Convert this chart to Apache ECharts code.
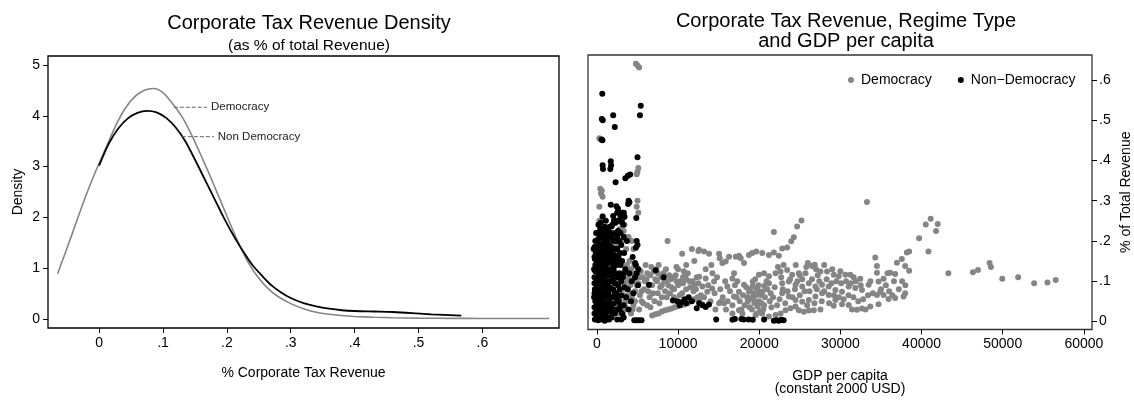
<!DOCTYPE html>
<html>
<head>
<meta charset="utf-8">
<script src="https://cdn.jsdelivr.net/npm/echarts@6/dist/echarts.min.js"></script>
<style>
  html, body { margin: 0; padding: 0; background: #fff; }
  #chart { width: 1134px; height: 401px; }
</style>
</head>
<body>
<div id="chart"></div>
<script>
// ---- Left panel: kernel density of corporate tax share ----
const democracyDensity = [
  [-0.065, 0.89], [-0.05, 1.40], [-0.035, 1.93], [-0.02, 2.45], [-0.005, 2.92],
  [0.01, 3.35], [0.025, 3.78], [0.04, 4.13], [0.055, 4.37], [0.07, 4.50],
  [0.085, 4.54], [0.10, 4.46], [0.115, 4.24], [0.13, 3.98], [0.145, 3.62],
  [0.16, 3.21], [0.175, 2.78], [0.19, 2.33], [0.205, 1.88], [0.22, 1.45],
  [0.235, 1.08], [0.25, 0.80], [0.265, 0.59], [0.28, 0.44], [0.30, 0.30],
  [0.32, 0.20], [0.34, 0.13], [0.36, 0.09], [0.38, 0.065], [0.40, 0.048],
  [0.43, 0.032], [0.46, 0.022], [0.50, 0.014], [0.55, 0.010], [0.60, 0.008],
  [0.65, 0.007], [0.705, 0.006]
];
const nonDemocracyDensity = [
  [0, 3.02], [0.015, 3.45], [0.03, 3.75], [0.045, 3.95], [0.06, 4.06],
  [0.075, 4.10], [0.09, 4.07], [0.105, 3.96], [0.12, 3.77], [0.135, 3.50],
  [0.15, 3.14], [0.165, 2.76], [0.18, 2.38], [0.195, 2.00], [0.21, 1.65],
  [0.225, 1.34], [0.24, 1.06], [0.255, 0.85], [0.27, 0.66], [0.285, 0.52],
  [0.30, 0.41], [0.32, 0.31], [0.34, 0.245], [0.36, 0.20], [0.38, 0.17],
  [0.40, 0.155], [0.43, 0.145], [0.46, 0.135], [0.49, 0.115], [0.52, 0.09],
  [0.567, 0.065]
];
// leader lines for the curve labels
const democracyLeader = [[0.117, 4.17], [0.169, 4.17]];
const nonDemocracyLeader = [[0.1296, 3.59], [0.1796, 3.59]];
const densityTicksX = [0, 0.1, 0.2, 0.3, 0.4, 0.5, 0.6];
const densityTicksY = [0, 1, 2, 3, 4, 5];

// ---- Right panel: tax share vs GDP per capita ----
const democracyPoints = [
  [4800,0.640],[5000,0.636],[5200,0.631],[300,0.455],[450,0.452],
  [5100,0.381],[5000,0.372],[4900,0.366],[400,0.330],[600,0.325],[500,0.318],[700,0.31],
  [300,0.285],[700,0.262],[300,0.25],[200,0.24],[5000,0.30],[4900,0.285],[5100,0.27],
  [3300,0.27],[3200,0.255],[3400,0.24],[3300,0.225],[3500,0.21],[3000,0.20],
  [200,0.2],[300,0.18],[1200,0.2],[1500,0.17],[2000,0.16],[2500,0.19],[2800,0.23],[2600,0.15],
  [3000,0.14],[2300,0.12],[2700,0.1],[3100,0.08],[2900,0.06],[2500,0.04],[3300,0.03],[2800,0.02],
  [3200,0.02],[3500,0.035],[3800,0.05],[3400,0.065],[3700,0.08],[3300,0.095],[3900,0.11],[3600,0.125],
  [4200,0.02],[4500,0.04],[4300,0.06],[4700,0.075],[4100,0.09],[4600,0.105],[4400,0.12],[4900,0.135],
  [5200,0.03],[5500,0.05],[5300,0.065],[5800,0.08],[5100,0.095],[5600,0.11],[5400,0.125],[6000,0.14],
  [6200,0.04],[6500,0.06],[6300,0.075],[6800,0.09],[6100,0.105],[6600,0.115],[7000,0.125],[7300,0.13],
  [7100,0.05],[7500,0.07],[7800,0.085],[7400,0.1],[7900,0.11],[8200,0.12],[8500,0.13],
  [8000,0.06],[8400,0.075],[8800,0.09],[8600,0.1],[9100,0.105],[9400,0.11],[9700,0.115],
  [9000,0.07],[9500,0.08],[10000,0.09],[10300,0.1],[10600,0.11],[10900,0.115],[11200,0.12],
  [10500,0.07],[11000,0.08],[11500,0.085],[12000,0.09],[12500,0.095],[11800,0.1],[12300,0.11],
  [6800,0.015],[7200,0.018],[7600,0.02],[8000,0.025],[8400,0.028],[8800,0.03],[9200,0.032],
  [9600,0.035],[10000,0.038],[10400,0.04],[10800,0.042],[11200,0.045],[11600,0.05],[12000,0.055],
  [12400,0.06],[12800,0.065],
  [8700,0.2],[10500,0.168],[11700,0.18],[12500,0.175],[12000,0.15],[11000,0.14],[10000,0.13],
  [12592,0.178],[13200,0.174],[13820,0.168],[15050,0.168],[15130,0.157],[15460,0.145],[15870,0.149],
  [16280,0.161],[17100,0.161],[17500,0.163],[17710,0.157],[18120,0.145],[18730,0.165],[19140,0.17],
  [19640,0.174],[20370,0.17],[21190,0.165],[21800,0.171],[22420,0.163],[22830,0.181],[23440,0.184],
  [23940,0.199],[24260,0.209],[24670,0.236],[25200,0.251],[21800,0.222],
  [12600,0.111],[13400,0.107],[14230,0.12],[14430,0.099],[13000,0.087],[13600,0.074],[14200,0.082],
  [12592,0.053],[13000,0.043],[15250,0.049],[15650,0.045],[16890,0.062],[16070,0.087],[16690,0.107],
  [17500,0.074],[18120,0.091],[18730,0.074],[19200,0.099],[19700,0.082],[20200,0.066],[19000,0.058],
  [19400,0.045],[20000,0.05],[20600,0.04],[18600,0.05],[19800,0.037],[20400,0.074],[19300,0.07],
  [19960,0.116],[20580,0.12],[21190,0.112],[22010,0.12],[22620,0.124],[23440,0.128],[24060,0.116],
  [24880,0.12],[25700,0.12],[26510,0.138],[26840,0.141],[27540,0.124],[28360,0.124],[29180,0.116],
  [29790,0.112],[30610,0.116],[31220,0.116],[31630,0.110],[32450,0.106],
  [22830,0.095],[23650,0.099],[24470,0.091],[25290,0.087],[26110,0.095],[26920,0.087],[27740,0.091],
  [28560,0.087],[29380,0.078],[30200,0.074],[31020,0.087],[31840,0.083],[32660,0.078],[33480,0.091],
  [22830,0.07],[23650,0.062],[24470,0.053],[25290,0.049],[26110,0.053],[26920,0.062],[27740,0.07],
  [28560,0.066],[29380,0.053],[30200,0.043],[31020,0.041],[29180,0.039],[31430,0.03],[32040,0.029],
  [32660,0.032],[33680,0.037],[34700,0.043],[35930,0.056],[36750,0.058],[37780,0.062],[37980,0.07],
  [34300,0.159],[34500,0.138],[34500,0.121],[34700,0.099],[34910,0.074],[34500,0.066],[35320,0.066],
  [35320,0.106],[36140,0.121],[36750,0.118],[36960,0.146],[37570,0.155],[38190,0.171],[38470,0.174],
  [37980,0.138],[38470,0.126],[39700,0.207],[40850,0.174],[40520,0.241],[41130,0.255],[41990,0.242],
  [41790,0.225],[33270,0.297],[43300,0.12],[46330,0.122],[46950,0.128],[48380,0.145],[48550,0.135],
  [49940,0.106],[51900,0.11],[53870,0.095],[55510,0.097],[56530,0.103],
  [15050,0.045],[16690,0.02],[17500,0.028],[17920,0.02],[19550,0.016],[20370,0.02],[21190,0.012],
  [22010,0.016],[22630,0.02],[23240,0.028],[23850,0.033],[24470,0.037],[24880,0.028],[25490,0.024],
  [26110,0.027],[26720,0.028],[27540,0.03],
  [17800,0.03],[18200,0.04],[18500,0.06],[18900,0.08],[19100,0.03],[19300,0.055],[19600,0.065],
  [19900,0.09],[20100,0.025],[20300,0.045],[20700,0.06],[21000,0.08],[21300,0.05],[20900,0.1],
  [19500,0.105],[18400,0.085],[18000,0.065],[17600,0.05],[19700,0.02],[20500,0.03],[21500,0.035],
  [21700,0.06],[21900,0.085],[21200,0.095],[20000,0.075],[19200,0.088],[18800,0.035],[19900,0.048],
  [20600,0.088],[21400,0.07],
  [22200,0.04],[22500,0.055],[22900,0.08],[23200,0.045],[23500,0.075],[23800,0.105],[24100,0.06],
  [24400,0.08],[24700,0.1],[25000,0.065],[25300,0.105],[25600,0.075],[25900,0.04],[26200,0.075],
  [26500,0.105],[26800,0.045],[27100,0.08],[27400,0.1],[27700,0.05],[28000,0.075],[28300,0.105],
  [28600,0.045],[28900,0.095],[29200,0.065],[29500,0.1],[29800,0.06],[30100,0.095],[30400,0.055],
  [30700,0.1],[31000,0.065],[31300,0.095],[31600,0.06],[31900,0.1],[32200,0.05],[32500,0.09],
  [32800,0.055],[33100,0.03],[33400,0.065],[33700,0.1],[34000,0.07],[35000,0.08],[35600,0.09],
  [36000,0.075],[36400,0.065],[37200,0.08],[37600,0.1],[38000,0.09],[36600,0.1],[35800,0.12],
  [22300,0.135],[23000,0.14],[24500,0.14],[25800,0.135],[27000,0.13],[28000,0.14],[29000,0.13],
  [30000,0.125],[26000,0.145],[22700,0.11],[25000,0.115],[27200,0.115],
  [13200,0.06],[13700,0.09],[14000,0.05],[14500,0.07],[14800,0.11],[15200,0.08],[15500,0.06],
  [15800,0.1],[16100,0.05],[16400,0.075],[16700,0.04],[17000,0.09],[17200,0.06],[14600,0.03],
  [15900,0.03],[13400,0.13],[14100,0.14],[16900,0.12],[17300,0.1],
  [3500,0.05],[3800,0.1],[4100,0.07],[4400,0.03],[4700,0.05],[4900,0.09],[5200,0.11],[5500,0.075],
  [5700,0.045],[5900,0.1],[6200,0.12],[6400,0.09],[6600,0.035],[6900,0.07],[7200,0.105],[7500,0.12],
  [7700,0.045],[8000,0.09],[8300,0.1],[8600,0.06],[8900,0.115],[9200,0.085],[9500,0.06],[9800,0.1],
  [10200,0.065],[10600,0.095],[11000,0.105],[11400,0.1],[11900,0.075],[12200,0.08],[7600,0.14],
  [6700,0.135],[9800,0.135],[10700,0.125],
  [3700,0.14],[4200,0.13],[2900,0.17],[3600,0.18],[3900,0.21],[4300,0.2],[4500,0.18],[4600,0.14],[4000,0.15]
];
const nonDemocracyPoints = [
  [660,0.566],[600,0.503],[720,0.500],[2000,0.512],[2200,0.483],[5400,0.536],[5300,0.512],
  [580,0.452],[680,0.450],[5000,0.408],[700,0.388],[750,0.379],[1700,0.398],[1750,0.388],[1650,0.379],
  [2300,0.346],[3500,0.356],[3800,0.362],[4100,0.365],[3900,0.300],[4000,0.296],[3850,0.292],
  [1700,0.290],[4850,0.257],[4900,0.200],[5000,0.190],[4800,0.183],[4700,0.145],[5100,0.130],
  [5070,0.090],[6420,0.091],[7240,0.127],[8230,0.110],
  [9360,0.052],[9900,0.050],[10400,0.048],[10800,0.055],[11300,0.060],[11700,0.050],[12300,0.033],
  [12600,0.045],[13000,0.040],[13400,0.036],[13800,0.042],[11000,0.045],[10200,0.040],
  [14700,0.005],[16700,0.004],[17000,0.006],[17800,0.006],[18100,0.005],[18700,0.005],[19200,0.004],
  [20600,0.005],[21800,0.002],[22100,0.003],[22400,0.002],[22700,0.004],[23000,0.003],
  [4600,0.003],[4900,0.003],[5200,0.003],[5500,0.003],
  [2400,0.286],[2600,0.28],[2500,0.27],[2900,0.262],[3200,0.26],[3300,0.27],[2000,0.262],[2100,0.25],
  [1600,0.235],[1800,0.236],[2300,0.245],[2700,0.25],[3100,0.245],[1300,0.23],[1000,0.235],[800,0.225],
  [500,0.21],[-400,0.18],[-300,0.16],
  [-250,0.005],[-150,0.02],[-300,0.035],[-200,0.05],[-100,0.065],[-250,0.08],[-150,0.095],[-300,0.11],
  [-200,0.125],[-100,0.14],[-250,0.155],[-150,0.17],[-280,0.185],
  [150,0.003],[250,0.015],[100,0.028],[300,0.042],[200,0.057],[120,0.07],[280,0.085],[180,0.1],
  [230,0.115],[130,0.13],[300,0.145],[200,0.16],[100,0.175],[250,0.19],[150,0.205],[300,0.22],
  [550,0.008],[650,0.022],[500,0.035],[700,0.048],[600,0.062],[520,0.076],[680,0.09],[580,0.105],
  [640,0.118],[500,0.132],[700,0.148],[600,0.163],[540,0.178],[660,0.193],[560,0.208],[620,0.23],[480,0.245],
  [950,0.002],[1050,0.016],[900,0.03],[1100,0.044],[1000,0.058],[920,0.072],[1080,0.086],[980,0.1],
  [1040,0.113],[900,0.127],[1100,0.141],[1000,0.156],[940,0.17],[1060,0.185],[960,0.2],[1020,0.215],
  [1350,0.01],[1500,0.025],[1300,0.04],[1550,0.055],[1400,0.07],[1600,0.085],[1450,0.1],[1300,0.115],
  [1550,0.13],[1400,0.145],[1600,0.16],[1350,0.175],[1500,0.19],[1420,0.21],
  [1900,0.02],[2100,0.045],[1800,0.06],[2000,0.08],[2200,0.095],[1850,0.11],[2050,0.13],[1950,0.15],
  [2150,0.165],[1800,0.185],[2000,0.2],[2200,0.22],[1900,0.24],
  [2500,0.03],[2700,0.05],[2400,0.07],[2600,0.09],[2800,0.12],[2450,0.14],[2650,0.16],[2500,0.18],
  [2750,0.2],[2600,0.225],[2400,0.25],
  [3100,0.02],[3300,0.04],[3000,0.065],[3400,0.085],[3200,0.11],[3500,0.13],[3100,0.15],[3350,0.17],
  [3000,0.19],[3250,0.24],[3400,0.26],[3100,0.27],
  [3900,0.03],[4200,0.05],[3800,0.08],[4300,0.1],[4000,0.12],[4500,0.07],[4700,0.11],[4400,0.16],
  [4800,0.14],[4900,0.12],
  [-50,0.01],[400,0.005],[800,0.01],[1200,0.005],[-350,0.06],[-350,0.13],[0,0.04],[0,0.09],[0,0.15],
  [0,0.2],[400,0.06],[400,0.11],[400,0.17],[400,0.23],[800,0.04],[800,0.09],[800,0.14],[800,0.19],
  [1200,0.03],[1200,0.08],[1200,0.13],[1200,0.18],[1200,0.23],[1700,0.035],[1700,0.1],[1700,0.17],
  [1700,0.22],[2300,0.06],[2300,0.16],[2300,0.2],[2900,0.04],[2900,0.14],[2900,0.22],[3600,0.06],
  [3700,0.2],[-200,0.2],[-100,0.22],[200,0.24],[700,0.26],[1100,0.25],
  [-300,0.02],[-300,0.07],[-300,0.095],[-200,0.14],[-100,0.03],[-100,0.1],[-100,0.18],[100,0.05],
  [100,0.11],[100,0.16],[100,0.22],[300,0.03],[300,0.08],[300,0.12],[300,0.19],[500,0.02],[500,0.09],
  [500,0.15],[500,0.19],[700,0.03],[700,0.07],[700,0.12],[700,0.17],[700,0.22],[900,0.015],[900,0.06],
  [900,0.11],[900,0.16],[900,0.21],[1100,0.03],[1100,0.1],[1100,0.165],[1100,0.2],[1300,0.06],
  [1300,0.09],[1300,0.15],[1300,0.2],[1500,0.005],[1500,0.045],[1500,0.08],[1500,0.12],[1500,0.16],
  [1500,0.22],[1800,0.01],[1800,0.04],[1800,0.08],[1800,0.13],[1800,0.16],[1800,0.21],[2000,0.03],
  [2000,0.1],[2000,0.14],[2000,0.18],[2200,0.02],[2200,0.07],[2200,0.12],[2200,0.18],[2500,0.005],
  [2500,0.055],[2500,0.11],[2500,0.15],[2500,0.21],[2800,0.03],[2800,0.08],[2800,0.17],[3000,0.1],
  [3000,0.005],[3300,0.01],[3300,0.12],[3300,0.21]
];
const gdpTicks = [0, 10000, 20000, 30000, 40000, 50000, 60000];
const shareTicks = [0, 0.1, 0.2, 0.3, 0.4, 0.5, 0.6];

const FONT = '"Liberation Sans", Arial, Helvetica, sans-serif';
const GRAY = '#858585';
const decimalLabel = v => (v === 0 ? '0' : String(+v.toFixed(2)).replace(/^0\./, '.'));

const chart = echarts.init(document.getElementById('chart'), null, { renderer: 'canvas' });

chart.setOption({
  animation: false,
  backgroundColor: '#fff',
  textStyle: { fontFamily: FONT, color: '#000' },
  title: [
    { text: 'Corporate Tax Revenue Density', left: 304, top: 8, textAlign: 'center',
      textStyle: { fontFamily: FONT, fontSize: 20, fontWeight: 'normal', color: '#000' } },
    { text: '(as % of total Revenue)', left: 304, top: 33, textAlign: 'center',
      textStyle: { fontFamily: FONT, fontSize: 15.5, fontWeight: 'normal', color: '#000' } },
    { text: 'Corporate Tax Revenue, Regime Type\nand GDP per capita', left: 841, top: 7, textAlign: 'center',
      textStyle: { fontFamily: FONT, fontSize: 20, fontWeight: 'normal', color: '#000', lineHeight: 19.5 } }
  ],
  legend: {
    data: ['Democracy', 'Non\u2212Democracy'],
    left: 843, top: 68,
    icon: 'circle', itemWidth: 6, itemHeight: 6, itemGap: 26,
    textStyle: { fontFamily: FONT, fontSize: 14, color: '#000', padding: [0, 0, 0, 2] }
  },
  grid: [
    { left: 48, top: 56, width: 511, height: 272, show: true, borderColor: '#000', borderWidth: 1.3, backgroundColor: 'transparent' },
    { left: 588, top: 55, width: 506, height: 275, show: true, borderColor: '#333', borderWidth: 1.3, backgroundColor: 'transparent' }
  ],
  xAxis: [
    { gridIndex: 0, type: 'value', min: -0.08, max: 0.72,
      name: '% Corporate Tax Revenue', nameLocation: 'middle', nameGap: 38,
      nameTextStyle: { fontFamily: FONT, fontSize: 14, color: '#000' },
      axisLine: { show: false, onZero: false },
      axisTick: { show: true, length: 5, lineStyle: { color: '#000', width: 1 }, customValues: densityTicksX },
      axisLabel: { customValues: densityTicksX, formatter: decimalLabel, fontSize: 14, color: '#000', margin: 8, fontFamily: FONT },
      splitLine: { show: false } },
    { gridIndex: 1, type: 'value', min: -1100, max: 61000,
      name: 'GDP per capita\n(constant 2000 USD)', nameLocation: 'middle', nameGap: 40,
      nameTextStyle: { fontFamily: FONT, fontSize: 14, color: '#000', lineHeight: 13 },
      axisLine: { show: false, onZero: false },
      axisTick: { show: true, length: 5, lineStyle: { color: '#000', width: 1 }, customValues: gdpTicks },
      axisLabel: { customValues: gdpTicks, formatter: v => String(v), fontSize: 14, color: '#000', margin: 8, fontFamily: FONT },
      splitLine: { show: false } }
  ],
  yAxis: [
    { gridIndex: 0, type: 'value', min: -0.18, max: 5.18,
      name: 'Density', nameLocation: 'middle', nameGap: 23,
      nameTextStyle: { fontFamily: FONT, fontSize: 14, color: '#000' },
      axisLine: { show: false, onZero: false },
      axisTick: { show: true, length: 5, lineStyle: { color: '#000', width: 1 }, customValues: densityTicksY },
      axisLabel: { customValues: densityTicksY, fontSize: 14, color: '#000', margin: 8, fontFamily: FONT },
      splitLine: { show: false } },
    { gridIndex: 1, type: 'value', position: 'right', min: -0.02, max: 0.662,
      name: '% of Total Revenue', nameLocation: 'middle', nameGap: 27,
      nameTextStyle: { fontFamily: FONT, fontSize: 14, color: '#000' },
      axisLine: { show: false, onZero: false },
      axisTick: { show: true, length: 5, lineStyle: { color: '#000', width: 1 }, customValues: shareTicks },
      axisLabel: { customValues: shareTicks, formatter: decimalLabel, fontSize: 14, color: '#000', margin: 7, fontFamily: FONT },
      splitLine: { show: false } }
  ],
  series: [
    { name: 'democracyDensity', type: 'line', xAxisIndex: 0, yAxisIndex: 0, data: democracyDensity,
      smooth: 0.3, symbol: 'none', lineStyle: { color: GRAY, width: 1.6 }, z: 2 },
    { name: 'nonDemocracyDensity', type: 'line', xAxisIndex: 0, yAxisIndex: 0, data: nonDemocracyDensity,
      smooth: 0.3, symbol: 'none', lineStyle: { color: '#000', width: 1.8 }, z: 3 },
    { name: 'democracyLeader', type: 'line', xAxisIndex: 0, yAxisIndex: 0, data: democracyLeader,
      symbol: 'none', lineStyle: { color: '#666', width: 1, type: [4, 2] }, z: 4,
      endLabel: { show: true, formatter: 'Democracy', distance: 4, fontSize: 11.5, color: '#222', fontFamily: FONT } },
    { name: 'nonDemocracyLeader', type: 'line', xAxisIndex: 0, yAxisIndex: 0, data: nonDemocracyLeader,
      symbol: 'none', lineStyle: { color: '#666', width: 1, type: [4, 2] }, z: 4,
      endLabel: { show: true, formatter: 'Non Democracy', distance: 4, fontSize: 11.5, color: '#222', fontFamily: FONT } },
    { name: 'Democracy', type: 'scatter', xAxisIndex: 1, yAxisIndex: 1, data: democracyPoints,
      symbolSize: 6, itemStyle: { color: GRAY, opacity: 1 }, z: 2 },
    { name: 'Non\u2212Democracy', type: 'scatter', xAxisIndex: 1, yAxisIndex: 1, data: nonDemocracyPoints,
      symbolSize: 6, itemStyle: { color: '#000', opacity: 1 }, z: 3 }
  ]
});
</script>
</body>
</html>
